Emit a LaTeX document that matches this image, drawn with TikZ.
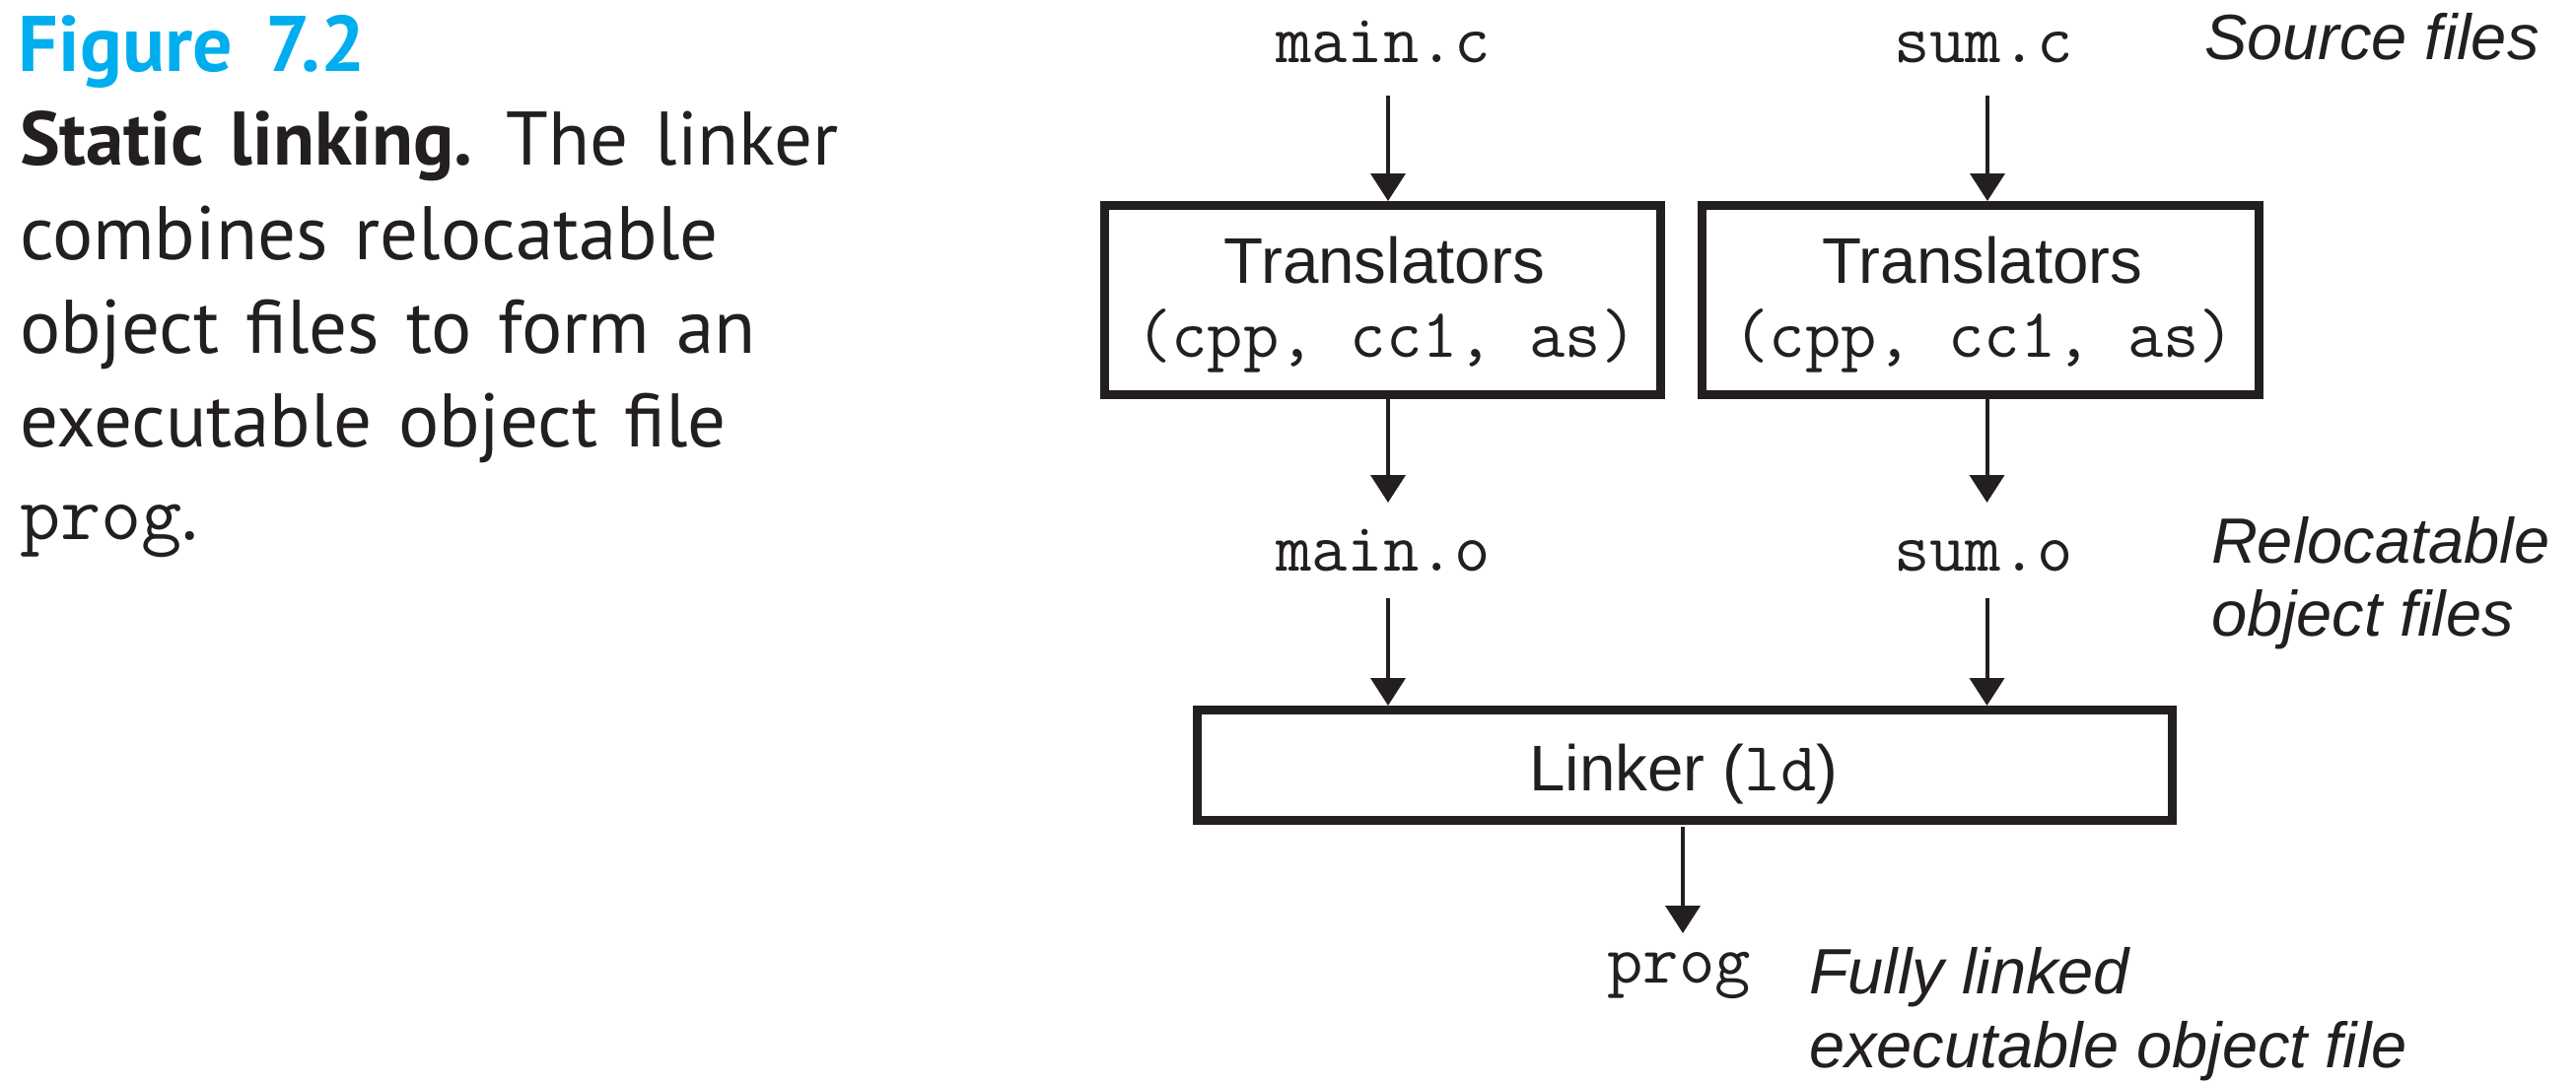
\documentclass[tikz,border=0pt]{standalone}
\usepackage{fontspec}
\setmainfont{Liberation Sans}
\newfontfamily\capfont{PT Sans}
\usetikzlibrary{arrows.meta,calc}
\definecolor{ink}{HTML}{231F20}
\definecolor{figblue}{HTML}{00AEEF}
\newcommand\capstyle{\capfont\fontsize{77}{95}\selectfont\spaceskip=27pt plus 4pt minus 2pt\relax}
\newcommand\figstyle{\capfont\bfseries\fontsize{80}{95}\selectfont\spaceskip=34pt plus 4pt minus 2pt\relax}
\begin{document}
\begin{tikzpicture}[x=1pt,y=-1pt,
  every node/.style={inner sep=0pt, outer sep=0pt, text=ink},
  capt/.style={anchor=base west},
  mono/.style={anchor=base, font=\ttfamily\fontsize{70.5}{75}\selectfont},
  sans/.style={anchor=base, font=\fontsize{65.5}{75}\selectfont},
  note/.style={anchor=base west, font=\itshape\fontsize{65}{74}\selectfont},
  procbox/.style={draw=ink, line width=9pt, outer sep=4.5pt, inner sep=0pt},
  arr/.style={draw=ink, line width=4pt, -{Triangle[length=28pt,width=35pt]}},
]
\useasboundingbox (0,0) rectangle (2613,1100);

% caption
\node[capt, text=figblue] (c1) at (19,72) {\figstyle Figure 7.2};
\node[capt] (c2) at (20,167) {\capstyle\textbf{Static linking.} The linker};
\node[capt] (c3) at (20,263) {\capstyle combines relocatable};
\node[capt] (c4) at (20,358) {\capstyle object files to form an};
\node[capt] (c5) at (20,453) {\capstyle executable object file};
\node[capt] (c6) at (20,547) {\capstyle{\ttfamily\fontsize{80}{95}\selectfont prog}.};

% file names
\node[mono] (mainc) at (1403,63) {main.c};
\node[mono] (sumc) at (2012,63) {sum.c};
\node[mono] (maino) at (1403,579) {main.o};
\node[mono] (sumo) at (2012,579) {sum.o};
\node[mono] (prog) at (1703,997) {prog};

% boxes
\node[procbox, minimum width=564.5pt, minimum height=191.5pt] (tr1) at (1402.25,304.25) {};
\node[procbox, minimum width=564.5pt, minimum height=191.5pt] (tr2) at (2008.75,304.25) {};
\node[procbox, minimum width=988.5pt, minimum height=112pt] (ld) at (1708.75,776.5) {};

\node[sans] (tr1a) at ($(tr1.center)+(2,-17.25)$) {Translators};
\node[mono] (tr1b) at ($(tr1.center)+(4,57.75)$) {(cpp, cc1, as)};
\node[sans] (tr2a) at ($(tr2.center)+(2,-17.25)$) {Translators};
\node[mono] (tr2b) at ($(tr2.center)+(4,57.75)$) {(cpp, cc1, as)};
\node[sans] (ldt) at ($(ld.center)+(-1,25.5)$) {Linker ({\ttfamily\fontsize{70.5}{75}\selectfont ld})};

% notes
\node[note] (n1) at (2236,60) {Source files};
\node[note] (n2) at (2243,571) {Relocatable};
\node[note] (n3) at (2243,645) {object files};
\node[note] (n4) at (1835,1008) {Fully linked};
\node[note] (n5) at (1835,1083) {executable object file};

% arrows
\draw[arr] ($(mainc.base)+(5,34)$) -- ($(mainc.base |- tr1.north)+(5,0)$);
\draw[arr] ($(sumc.base)+(4,34)$) -- ($(sumc.base |- tr2.north)+(4,0)$);
\draw[arr] ($(maino.base |- tr1.south)+(5,0)$) -- ($(maino.base)+(5,-69)$);
\draw[arr] ($(sumo.base |- tr2.south)+(3.5,0)$) -- ($(sumo.base)+(3.5,-69)$);
\draw[arr] ($(maino.base)+(5,28)$) -- ($(maino.base |- ld.north)+(5,0)$);
\draw[arr] ($(sumo.base)+(3.5,28)$) -- ($(sumo.base |- ld.north)+(3.5,0)$);
\draw[arr] ($(prog.base |- ld.south)+(4,2)$) -- ($(prog.base)+(4,-50)$);
\end{tikzpicture}
\end{document}
